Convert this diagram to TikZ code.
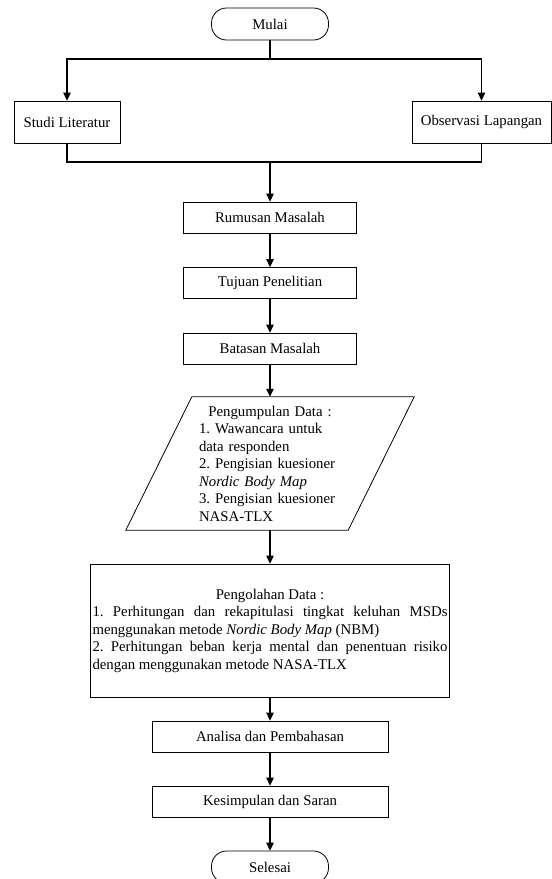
\documentclass[tikz,border=0pt]{standalone}
\usepackage{fontspec}
\setmainfont{Liberation Serif}
\usetikzlibrary{arrows.meta}
\frenchspacing
\lefthyphenmin=62

\begin{document}
\begin{tikzpicture}[x=1pt, y=-1pt,
terminal/.style={draw, line width=0.8pt, rounded corners=15pt, minimum width=117pt, minimum height=32pt},
proses/.style={draw, line width=0.8pt, minimum height=31pt, inner sep=0pt},
arus/.style={line width=1.3pt, -{Triangle[width=7.5pt, length=8pt]}},
garis/.style={line width=1.3pt}]
\tikzstyle{every node}=[font=\fontsize{14.8}{17.5}\selectfont]
\useasboundingbox (0,0) rectangle (552,879);
\def\tx{270}
% Awal
\node[terminal] (mulai) at (\tx,24) {Mulai};
\node[proses, minimum width=106pt, minimum height=42pt] (studi) at (67,122) {Studi Literatur};
\node[proses, minimum width=139pt, minimum height=42pt] (observasi) at (481.5,122) {Observasi Lapangan};
\coordinate (cabang) at (\tx,59);
\coordinate (gabung) at (\tx,162);
% Tahap awal penelitian
\node[proses, minimum width=173pt] (rumusan) at (\tx,217.5) {Rumusan Masalah};
\node[proses, minimum width=173pt] (tujuan) at (\tx,283) {Tujuan Penelitian};
\node[proses, minimum width=173pt] (batasan) at (\tx,348.5) {Batasan Masalah};
% Data
\node[minimum width=156pt, minimum height=133pt, inner xsep=7pt, text width=142pt, align=left] (kumpul) at (\tx,463.5)
  {\makebox[\hsize]{Pengumpulan Data :}\\1. Wawancara untuk\\data responden\\2. Pengisian kuesioner\\\textit{Nordic Body Map}\\3. Pengisian kuesioner\\NASA-TLX};
\draw[line width=0.8pt] ([xshift=-66pt]kumpul.south west) -- (kumpul.north west) -- ([xshift=66pt]kumpul.north east) -- (kumpul.south east) -- cycle;
\node[proses, minimum width=359pt, minimum height=133pt, inner sep=2pt, text width=355pt, align=justify] (olah) at (\tx,630.5)
  {\parindent=0pt\tolerance=10000
   \makebox[\hsize]{Pengolahan Data :}\par
   1. Perhitungan dan rekapitulasi tingkat keluhan MSDs menggunakan metode \textit{Nordic Body Map} (NBM)\par
   2. Perhitungan beban kerja mental dan penentuan risiko dengan menggunakan metode NASA-TLX};
% Akhir
\node[proses, minimum width=236pt] (analisa) at (\tx,736.5) {Analisa dan Pembahasan};
\node[proses, minimum width=236pt] (kesimpulan) at (\tx,801.5) {Kesimpulan dan Saran};
\node[terminal] (selesai) at (\tx,867) {Selesai};
% Alur
\draw[garis] (mulai) -- (cabang);
\draw[arus] (cabang) -| (studi);
\draw[arus] (cabang) -| (observasi);
\draw[garis] (studi) |- (gabung);
\draw[garis] (observasi) |- (gabung);
\draw[arus] (gabung) -- (rumusan);
\draw[arus] (rumusan) -- (tujuan);
\draw[arus] (tujuan) -- (batasan);
\draw[arus] (batasan) -- (kumpul);
\draw[arus] (kumpul) -- (olah);
\draw[arus] (olah) -- (analisa);
\draw[arus] (analisa) -- (kesimpulan);
\draw[arus] (kesimpulan) -- (selesai);
\end{tikzpicture}
\end{document}
